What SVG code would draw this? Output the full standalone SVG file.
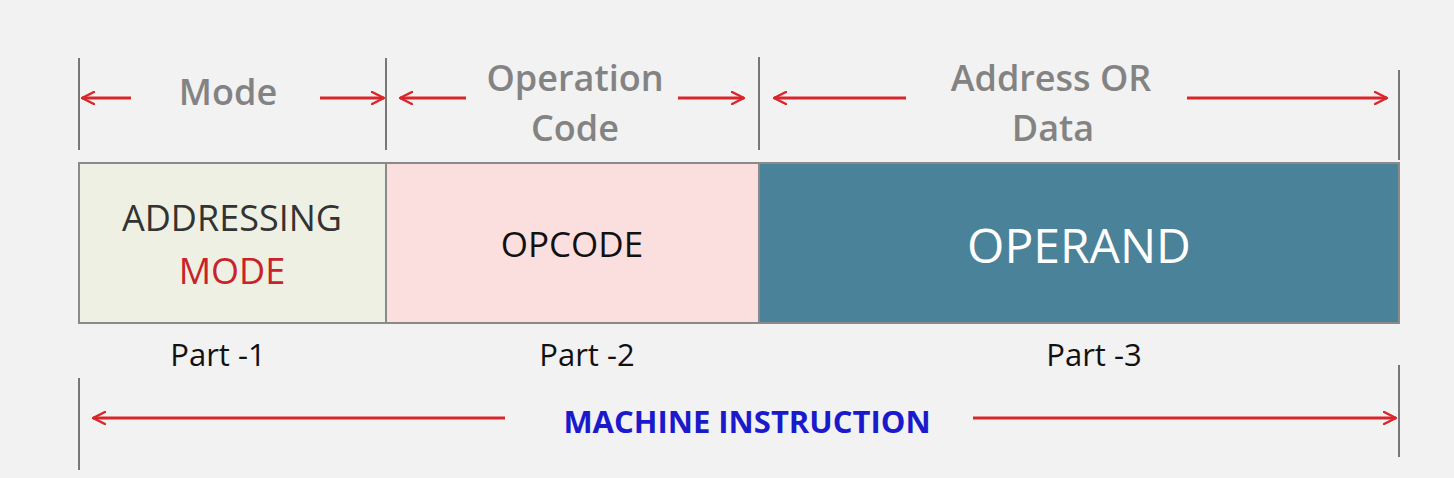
<svg xmlns="http://www.w3.org/2000/svg" width="1454" height="478" viewBox="0 0 1454 478">
<defs>
<marker id="ah" viewBox="0 0 14 14" refX="13" refY="7" markerWidth="14" markerHeight="14" markerUnits="userSpaceOnUse" orient="auto">
<path d="M1,1 L13,7 L1,13" fill="none" stroke="#d9262a" stroke-width="2.4" stroke-linecap="round" stroke-linejoin="round"/>
</marker>
<style>
.tick{stroke:#777;stroke-width:2}
.arr{stroke:#d9262a;stroke-width:3;fill:none;marker-end:url(#ah)}
.hdr{font-family:"Open Sans","Liberation Sans",sans-serif;font-weight:600;font-size:36px;fill:#838383;text-anchor:middle}
.part{font-family:"Open Sans","Liberation Sans",sans-serif;font-size:31px;fill:#111;text-anchor:middle}
.box{stroke:#8a8a8a;stroke-width:2}
.lbl{font-family:"Open Sans","Liberation Sans",sans-serif;text-anchor:middle}
</style>
</defs>
<rect width="1454" height="478" fill="#f2f2f2"/>
<g id="ticks">
<line class="tick" x1="79" y1="58" x2="79" y2="150"/>
<line class="tick" x1="386" y1="58" x2="386" y2="150"/>
<line class="tick" x1="759" y1="57" x2="759" y2="150"/>
<line class="tick" x1="1399" y1="70" x2="1399" y2="160"/>
<line class="tick" x1="79" y1="378" x2="79" y2="470"/>
<line class="tick" x1="1399" y1="365" x2="1399" y2="457"/>
</g>
<g id="connectors">
<line class="arr" x1="131" y1="98" x2="82" y2="98"/>
<line class="arr" x1="320" y1="98" x2="384" y2="98"/>
<line class="arr" x1="466" y1="98" x2="400" y2="98"/>
<line class="arr" x1="678" y1="98" x2="744" y2="98"/>
<line class="arr" x1="906" y1="98" x2="774" y2="98"/>
<line class="arr" x1="1187" y1="98" x2="1387" y2="98"/>
<line class="arr" x1="505" y1="418" x2="93" y2="418"/>
<line class="arr" x1="973" y1="418" x2="1396" y2="418"/>
</g>
<g id="headers">
<text class="hdr" x="228" y="105">Mode</text>
<text class="hdr" x="575" y="91">Operation</text>
<text class="hdr" x="575" y="141">Code</text>
<text class="hdr" x="1051" y="91">Address OR</text>
<text class="hdr" x="1053" y="141">Data</text>
</g>
<g id="node-addressing">
<rect class="box" x="79" y="163" width="307" height="160" fill="#eef0e3"/>
<text class="lbl" x="232" y="231" font-size="36" fill="#333">ADDRESSING</text>
<text class="lbl" x="232" y="284" font-size="36" fill="#c8222a">MODE</text>
</g>
<g id="node-opcode">
<rect class="box" x="386" y="163" width="373" height="160" fill="#fbdfdf"/>
<text class="lbl" x="572" y="257" font-size="35" fill="#111">OPCODE</text>
</g>
<g id="node-operand">
<rect class="box" x="759" y="163" width="640" height="160" fill="#4a8299"/>
<text class="lbl" x="1079" y="263" font-size="48" fill="#fff">OPERAND</text>
</g>
<g id="parts">
<text class="part" x="218" y="366">Part -1</text>
<text class="part" x="587" y="366">Part -2</text>
<text class="part" x="1094" y="366">Part -3</text>
</g>
<g id="title">
<text x="747" y="433" font-family="'Open Sans','Liberation Sans',sans-serif" font-weight="700" font-size="31" fill="#1a1acc" text-anchor="middle">MACHINE INSTRUCTION</text>
</g>
</svg>
